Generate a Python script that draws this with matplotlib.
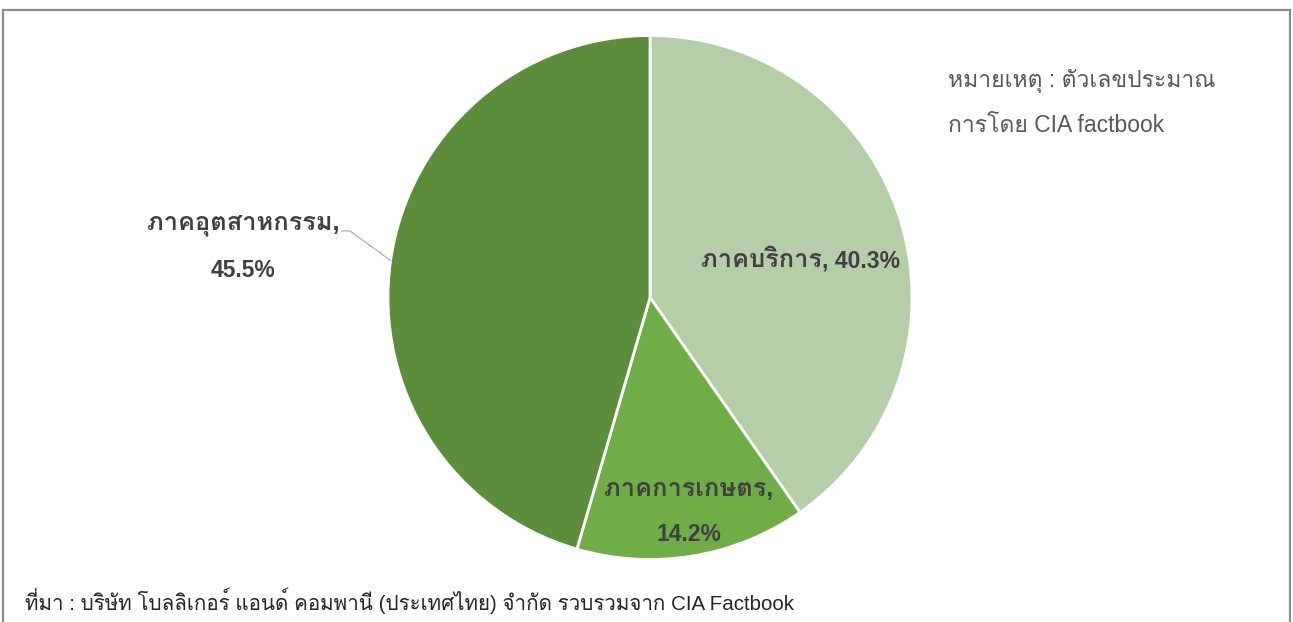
import numpy as np
import matplotlib
matplotlib.use("Agg")
import matplotlib.pyplot as plt
from matplotlib.patches import Rectangle

# GDP by sector (percent)
sectors = ["ภาคบริการ", "ภาคการเกษตร", "ภาคอุตสาหกรรม"]
shares = [40.3, 14.2, 45.5]
colors = ["#B4CEA7", "#70AD47", "#5B8D3A"]

note = ["หมายเหตุ : ตัวเลขประมาณ", "การโดย CIA factbook"]
source = "ที่มา : บริษัท โบลลิเกอร์ แอนด์ คอมพานี (ประเทศไทย) จำกัด รวบรวมจาก CIA Factbook"

FONT = ["Liberation Sans", "Loma"]
plt.rcParams["font.family"] = FONT

W, H = 1293, 622
fig = plt.figure(figsize=(W / 100, H / 100), dpi=100)

# outer frame
fig.patches.append(Rectangle((3 / W, -0.1), 1287 / W, 1.1 - 10 / H,
                             transform=fig.transFigure, fill=False,
                             edgecolor="#8c8c8c", linewidth=1.6))

cx, cy, r = 650, 297.5, 262
ax = fig.add_axes([(cx - r) / W, (H - cy - r) / H, 2 * r / W, 2 * r / H])
wedges, _ = ax.pie(shares, colors=colors, startangle=90, counterclock=False,
                   radius=1.0, wedgeprops=dict(edgecolor="white", linewidth=2))
ax.set_xlim(-1, 1)
ax.set_ylim(-1, 1)
ax.set_aspect("equal")
ax.axis("off")

# thai text in loma runs small next to latin, so name and value get their own sizes
name_kw = dict(fontsize=18.3, fontweight="bold", color="#404040", va="baseline", clip_on=False)
num_kw = dict(fontsize=16.5, fontweight="bold", color="#404040", va="baseline", clip_on=False)

# services: inside, one line
ax.text(0.656, 0.116, sectors[0], ha="right", **name_kw)
ax.text(0.656, 0.116, ", %.1f%%" % shares[0], ha="left", **num_kw)

# agriculture: inside, two lines
ax.text(0.149, -0.758, sectors[1] + ",", ha="center", **name_kw)
ax.text(0.149, -0.929, "%.1f%%" % shares[1], ha="center", **num_kw)

# industry: outside with leader line to the wedge middle
mid = np.deg2rad(90 - 360 * (shares[0] + shares[1] + shares[2] / 2) / 100)
ex, ey = np.cos(mid), np.sin(mid)
ax.plot([-1.176, -1.145, ex], [0.254, 0.254, ey], color="#a6a6a6",
        linewidth=0.8, clip_on=False)
ax.text(-1.553, 0.261, sectors[2] + ",", ha="center", **name_kw)
ax.text(-1.553, 0.078, "%.1f%%" % shares[2], ha="center", **num_kw)

fig.text(948 / W, 1 - 87 / H, note[0], fontsize=16.5, color="#595959",
         ha="left", va="baseline")
fig.text(948 / W, 1 - 132 / H, note[1], fontsize=16.5, color="#595959",
         ha="left", va="baseline")
fig.text(25 / W, 1 - 601 / H, source, fontsize=14.8, color="#262626",
         ha="left", va="center")

fig.savefig("out.png", dpi=100)
